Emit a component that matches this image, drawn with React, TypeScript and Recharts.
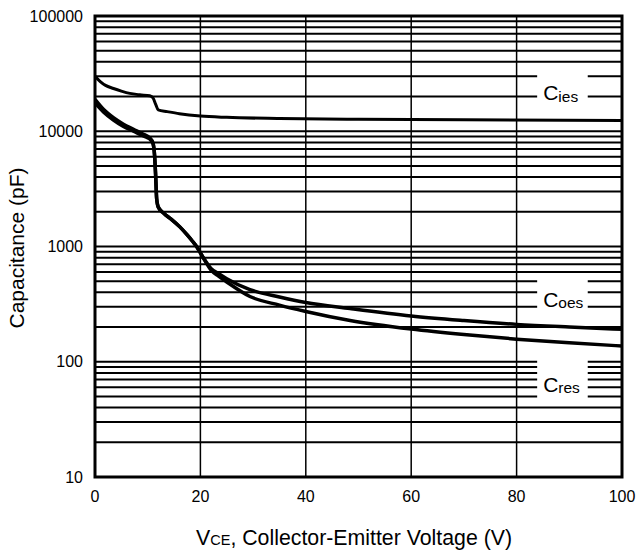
import React from 'react';
import { LineChart, Line, XAxis, YAxis, CartesianGrid, ReferenceArea, Label } from 'recharts';

const xTicks = [0, 20, 40, 60, 80, 100];
const yTicks = [
  10, 20, 30, 40, 50, 60, 70, 80, 90,
  100, 200, 300, 400, 500, 600, 700, 800, 900,
  1000, 2000, 3000, 4000, 5000, 6000, 7000, 8000, 9000,
  10000, 20000, 30000, 40000, 50000, 60000, 70000, 80000, 90000,
  100000,
];
const yLabels = [10, 100, 1000, 10000, 100000];

const ciesV = [0, 1, 2, 3.5, 5, 6.6, 8.5, 10.4, 11, 11.5, 12, 13.7, 16, 20, 25, 35, 50, 70, 100];
const ciesC = [30000, 27000, 25000, 23500, 22300, 21300, 20700, 20300, 19500, 17200, 15300, 14800, 14200, 13550, 13200, 12900, 12700, 12600, 12400];

const coesV = [0, 1.6, 3.5, 5.4, 7.3, 9.2, 10.4, 11, 11.3, 11.5, 11.7, 12, 13, 14.5, 16.1, 17.5, 18.5, 19.4, 20, 21, 22, 23.5, 25, 29.4, 35, 40, 48.4, 60, 70, 80, 90, 100];
const coesC = [18900, 15500, 13100, 11500, 10400, 9400, 8750, 7900, 6200, 4200, 2600, 2200, 1950, 1720, 1480, 1260, 1110, 980, 880, 745, 645, 580, 525, 422, 365, 327, 290, 250, 228, 211, 200, 191];

const cresV = [0, 1.6, 3.5, 5.4, 7.3, 9.2, 10.4, 11, 11.3, 11.5, 11.7, 12, 13, 14.5, 16.1, 17.5, 18.5, 19.4, 20, 21, 22, 23.5, 25, 29.4, 35, 40, 48.4, 60, 70, 80, 90, 100];
const cresC = [17600, 14700, 12500, 11000, 10000, 9100, 8550, 7800, 6200, 4200, 2600, 2200, 1950, 1720, 1480, 1260, 1110, 980, 880, 735, 625, 550, 492, 368, 310, 273, 228, 192, 172, 157, 146, 137];

const toData = (xs: number[], ys: number[]) => xs.map((v, i) => ({ v, c: ys[i] }));
const ciesData = toData(ciesV, ciesC);
const coesData = toData(coesV, coesC);
const cresData = toData(cresV, cresC);

const FONT = '"Liberation Sans", Arial, sans-serif';

const boxLabel = (sub: string, dy: number) => (props: any) => {
  const vb = props.viewBox || {};
  const x = (vb.x ?? 0) + 6;
  const y = (vb.y ?? 0) + (vb.height ?? 0) / 2 + dy;
  return (
    <text x={x} y={y} fontFamily={FONT} fill="#000">
      <tspan fontSize={21}>C</tspan>
      <tspan fontSize={15.5} dy={1.5}>{sub}</tspan>
    </text>
  );
};

export default function App() {
  return (
    <div style={{ position: 'absolute', left: 0, top: 0, width: 638, height: 551, background: '#fff', fontFamily: FONT }}>
      <LineChart width={638} height={551} margin={{ top: 16, right: 16, bottom: 0, left: 0 }}>
        <CartesianGrid vertical={false} stroke="#000" strokeWidth={2} />
        <CartesianGrid horizontal={false} stroke="#000" strokeWidth={1.5} />
        <XAxis
          type="number"
          dataKey="v"
          domain={[0, 100]}
          ticks={xTicks}
          interval={0}
          height={74}
          tickSize={0}
          tickMargin={14}
          axisLine={false}
          allowDataOverflow
          tick={{ fontSize: 16, fill: '#000', fontFamily: FONT }}
        >
          <Label
            content={() => (
              <text x={196} y={545} fontFamily={FONT} fill="#000">
                <tspan fontSize={21.3}>V</tspan>
                <tspan fontSize={14.5}>CE</tspan>
                <tspan fontSize={21.3}>, Collector-Emitter Voltage (V)</tspan>
              </text>
            )}
          />
        </XAxis>
        <YAxis
          type="number"
          dataKey="c"
          scale="log"
          domain={[10, 100000]}
          ticks={yTicks}
          interval={0}
          width={95}
          tickSize={0}
          tickMargin={12}
          axisLine={false}
          allowDataOverflow
          tickFormatter={(v: number) => (yLabels.includes(v) ? String(v) : '')}
          tick={{ fontSize: 16, fill: '#000', fontFamily: FONT }}
        >
          <Label
            content={() => (
              <text
                x={24}
                y={248}
                transform="rotate(-90 24 248)"
                textAnchor="middle"
                fontFamily={FONT}
                fontSize={21}
                fill="#000"
              >
                Capacitance (pF)
              </text>
            )}
          />
        </YAxis>
        <ReferenceArea x1={83.9} x2={93.5} y1={15300} y2={36800} fill="#fff" fillOpacity={1} stroke="none" ifOverflow="visible" label={boxLabel('ies', 12)} />
        <ReferenceArea x1={83.9} x2={93.5} y1={240} y2={555} fill="#fff" fillOpacity={1} stroke="none" ifOverflow="visible" label={boxLabel('oes', 9.7)} />
        <ReferenceArea x1={83.9} x2={93.5} y1={44} y2={114} fill="#fff" fillOpacity={1} stroke="none" ifOverflow="visible" label={boxLabel('res', 12.7)} />
        <Line data={ciesData} dataKey="c" type="monotone" stroke="#000" strokeWidth={3} dot={false} isAnimationActive={false} />
        <Line data={coesData} dataKey="c" type="monotone" stroke="#000" strokeWidth={3.5} dot={false} isAnimationActive={false} />
        <Line data={cresData} dataKey="c" type="monotone" stroke="#000" strokeWidth={3.5} dot={false} isAnimationActive={false} />
        <ReferenceArea x1={0} x2={100} y1={10} y2={100000} fill="none" stroke="#000" strokeWidth={3} ifOverflow="visible" />
      </LineChart>
    </div>
  );
}
